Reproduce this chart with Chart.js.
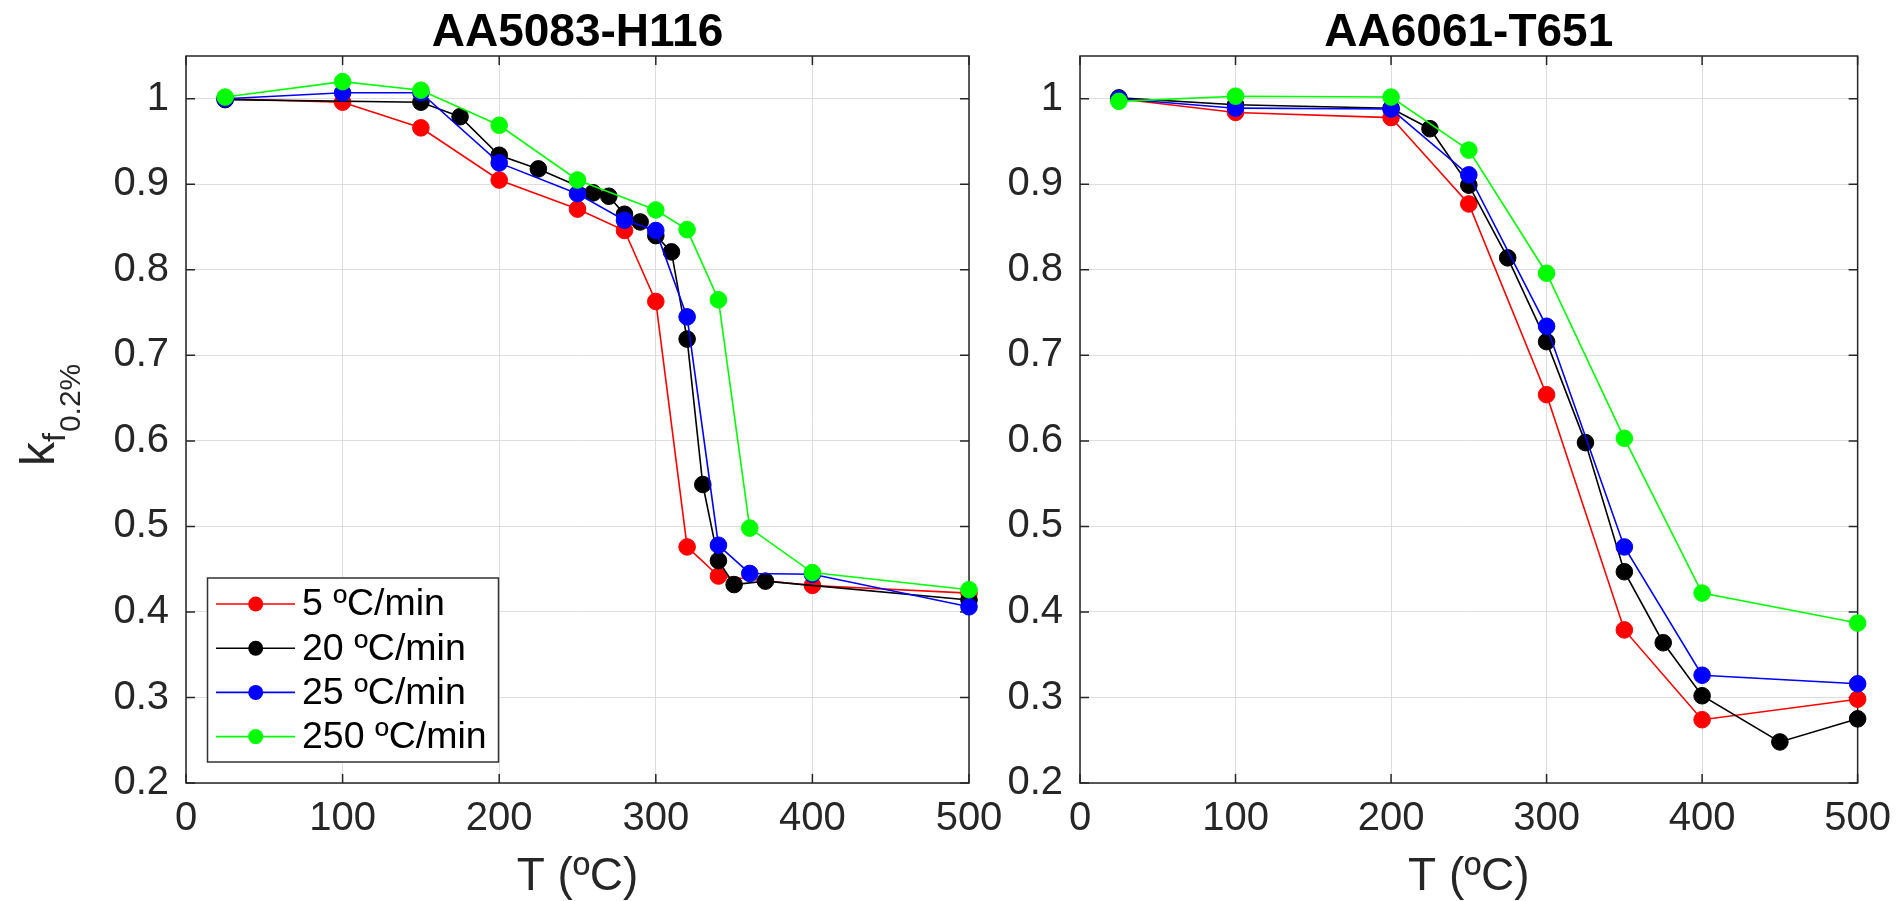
<!DOCTYPE html>
<html><head><meta charset="utf-8">
<script src="https://cdn.jsdelivr.net/npm/chart.js@4.4.1/dist/chart.umd.min.js"></script>
<style>
html,body{margin:0;padding:0;background:#fff;width:1903px;height:901px;overflow:hidden;}
#c1{position:absolute;left:0;top:0;}
#c2{position:absolute;left:960px;top:0;}
</style></head><body>
<canvas id="c1" width="1040" height="901"></canvas>
<canvas id="c2" width="943" height="901"></canvas>
<script>
// ---------- data ----------
const seriesLabels = ['5 ºC/min', '20 ºC/min', '25 ºC/min', '250 ºC/min'];
const seriesColors = ['#ff0000', '#000000', '#0000ff', '#00ff00'];
const xTicks = [0, 100, 200, 300, 400, 500];
const yTicks = [0.2, 0.3, 0.4, 0.5, 0.6, 0.7, 0.8, 0.9, 1.0];
const titles = ['AA5083-H116', 'AA6061-T651'];

// AA5083-H116
const T5083_r5   = [25, 100, 150, 200, 250, 280, 300, 320, 340, 400, 500];
const k5083_r5   = [1.000, 0.996, 0.966, 0.905, 0.871, 0.846, 0.763, 0.476, 0.442, 0.431, 0.422];
const T5083_r20  = [25, 150, 175, 200, 225, 260, 270, 280, 290, 300, 310, 320, 330, 340, 350, 370, 500];
const k5083_r20  = [0.999, 0.996, 0.979, 0.934, 0.918, 0.890, 0.886, 0.865, 0.856, 0.840, 0.821, 0.719, 0.549, 0.460, 0.432, 0.436, 0.414];
const T5083_r25  = [25, 100, 150, 200, 250, 280, 300, 320, 340, 360, 400, 500];
const k5083_r25  = [1.000, 1.007, 1.007, 0.925, 0.889, 0.858, 0.846, 0.745, 0.478, 0.445, 0.444, 0.406];
const T5083_r250 = [25, 100, 150, 200, 250, 300, 320, 340, 360, 400, 500];
const k5083_r250 = [1.002, 1.020, 1.010, 0.969, 0.905, 0.870, 0.847, 0.765, 0.498, 0.446, 0.426];

// AA6061-T651
const T6061_r5   = [25, 100, 200, 250, 300, 350, 400, 500];
const k6061_r5   = [1.000, 0.984, 0.978, 0.877, 0.654, 0.379, 0.274, 0.298];
const T6061_r20  = [25, 100, 200, 225, 250, 275, 300, 325, 350, 375, 400, 450, 500];
const k6061_r20  = [1.001, 0.993, 0.989, 0.965, 0.899, 0.814, 0.716, 0.598, 0.447, 0.364, 0.302, 0.248, 0.275];
const T6061_r25  = [25, 100, 200, 250, 300, 350, 400, 500];
const k6061_r25  = [1.000, 0.989, 0.988, 0.911, 0.734, 0.476, 0.326, 0.316];
const T6061_r250 = [25, 100, 200, 250, 300, 350, 400, 500];
const k6061_r250 = [0.997, 1.003, 1.002, 0.940, 0.796, 0.603, 0.422, 0.387];

// ---------- helpers ----------
const FONT = '"Liberation Sans", Arial, Helvetica, sans-serif';
const AXC = '#262626';

function pairs(T, k) { return T.map((t, i) => ({x: t, y: k[i]})); }

function makeDatasets(list) {
  return list.map((s, i) => ({
    label: seriesLabels[i],
    data: pairs(s[0], s[1]),
    borderColor: seriesColors[i],
    backgroundColor: seriesColors[i],
    pointBackgroundColor: seriesColors[i],
    pointBorderColor: seriesColors[i],
    pointRadius: 8.3,
    pointBorderWidth: 1,
    borderWidth: 1.6,
    tension: 0,
    clip: false,
    order: 4 - i
  }));
}

const decorPlugin = {
  id: 'decor',
  beforeDatasetsDraw(chart, args, opts) {
    const ctx = chart.ctx, a = chart.chartArea;
    const xs = chart.scales.x, ys = chart.scales.y;
    ctx.save();
    ctx.strokeStyle = AXC; ctx.lineWidth = 1.5;
    ctx.strokeRect(a.left, a.top, a.right - a.left, a.bottom - a.top);
    ctx.beginPath();
    xTicks.forEach(v => {
      const x = xs.getPixelForValue(v);
      ctx.moveTo(x, a.bottom); ctx.lineTo(x, a.bottom - 9);
      ctx.moveTo(x, a.top); ctx.lineTo(x, a.top + 9);
    });
    yTicks.forEach(v => {
      const y = ys.getPixelForValue(v);
      ctx.moveTo(a.left, y); ctx.lineTo(a.left + 9, y);
      ctx.moveTo(a.right, y); ctx.lineTo(a.right - 9, y);
    });
    ctx.stroke();
    ctx.restore();
  },
  afterDatasetsDraw(chart, args, opts) {
    if (!opts.legend) return;
    const ctx = chart.ctx;
    const bx = 207.5, by = 578, bw = 291, bh = 184;
    ctx.save();
    ctx.fillStyle = '#ffffff';
    ctx.fillRect(bx, by, bw, bh);
    ctx.strokeStyle = '#333333'; ctx.lineWidth = 1.5;
    ctx.strokeRect(bx, by, bw, bh);
    ctx.font = '37.5px ' + FONT;
    ctx.textBaseline = 'middle';
    ctx.textAlign = 'left';
    seriesLabels.forEach((lab, i) => {
      const y = 604 + i * 44.2;
      ctx.strokeStyle = seriesColors[i]; ctx.lineWidth = 1.6;
      ctx.beginPath(); ctx.moveTo(216, y); ctx.lineTo(295, y); ctx.stroke();
      ctx.fillStyle = seriesColors[i];
      ctx.beginPath(); ctx.arc(255.7, y, 7.5, 0, Math.PI * 2); ctx.fill();
      ctx.fillStyle = '#000000';
      ctx.fillText(lab, 302, y + 1);
    });
    ctx.restore();
  },
  afterDraw(chart, args, opts) {
    const ctx = chart.ctx, a = chart.chartArea;
    const cx = (a.left + a.right) / 2;
    ctx.save();
    ctx.fillStyle = '#000000';
    ctx.textAlign = 'center';
    ctx.textBaseline = 'alphabetic';
    ctx.font = 'bold 46px ' + FONT;
    ctx.fillText(opts.title, cx, 45.5);
    ctx.fillStyle = AXC;
    ctx.font = '46px ' + FONT;
    ctx.fillText('T (ºC)', cx, 889.5);
    if (opts.ylabel) {
      ctx.translate(54, 466);
      ctx.rotate(-Math.PI / 2);
      ctx.textAlign = 'left';
      ctx.font = '48px ' + FONT;
      ctx.fillText('k', 0, 0);
      let w = ctx.measureText('k').width;
      ctx.font = '32px ' + FONT;
      ctx.fillText('f', w, 11);
      w += ctx.measureText('f').width;
      ctx.font = '30px ' + FONT;
      ctx.fillText('0.2%', w + 1, 26);
    }
    ctx.restore();
  }
};

function makeChart(id, list, cfg) {
  return new Chart(document.getElementById(id), {
    type: 'line',
    data: {datasets: makeDatasets(list)},
    plugins: [decorPlugin],
    options: {
      responsive: false,
      animation: false,
      devicePixelRatio: 1,
      layout: {padding: {left: 0, right: cfg.padRight, top: 56, bottom: 0}},
      plugins: {
        legend: {display: false},
        tooltip: {enabled: false},
        title: {display: false},
        decor: {title: cfg.title, ylabel: cfg.ylabel, legend: cfg.legend}
      },
      scales: {
        x: {
          type: 'linear', min: 0, max: 500,
          afterBuildTicks: s => { s.ticks = xTicks.map(v => ({value: v})); },
          afterFit: s => { s.height = 118; },
          grid: {color: '#dedede', lineWidth: 1, drawTicks: false},
          border: {display: false},
          ticks: {color: AXC, font: {family: FONT, size: 40}, padding: 12, maxRotation: 0,
                  callback: v => String(v)}
        },
        y: {
          type: 'linear', min: 0.2, max: 1.05,
          afterBuildTicks: s => { s.ticks = yTicks.map(v => ({value: v})); },
          afterFit: s => { s.width = cfg.yWidth; },
          grid: {color: '#dedede', lineWidth: 1, drawTicks: false},
          border: {display: false},
          ticks: {color: AXC, font: {family: FONT, size: 40}, padding: 17,
                  callback: v => String(Math.round(v * 10) / 10)}
        }
      }
    }
  });
}

makeChart('c1', [[T5083_r5, k5083_r5], [T5083_r20, k5083_r20], [T5083_r25, k5083_r25], [T5083_r250, k5083_r250]],
  {title: titles[0], ylabel: true, legend: true, padRight: 71, yWidth: 186});
makeChart('c2', [[T6061_r5, k6061_r5], [T6061_r20, k6061_r20], [T6061_r25, k6061_r25], [T6061_r250, k6061_r250]],
  {title: titles[1], ylabel: false, legend: false, padRight: 40, yWidth: 120});
</script>
</body></html>
